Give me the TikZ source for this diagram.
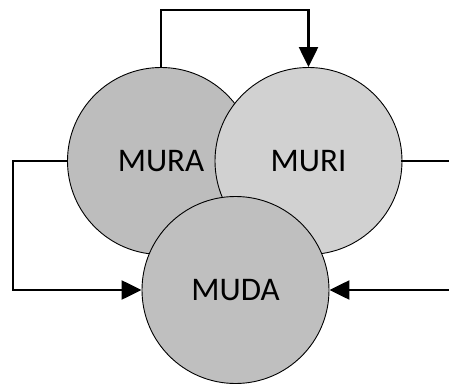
\documentclass[tikz,border=0pt]{standalone}
\usepackage{fontspec}
\setmainfont{Carlito}
\usetikzlibrary{arrows.meta}
\begin{document}
\begin{tikzpicture}[x=1pt,y=-1pt,
  bubble/.style={circle,draw=black,line width=0.9pt,minimum size=187pt,inner sep=0pt,
    font=\fontsize{33}{33}\selectfont},
  conn/.style={line width=2.4pt,line cap=rect},
  flow/.style={conn,-{Triangle[length=20pt,width=19pt]}}]
  \useasboundingbox (0,0) rectangle (449,385);
  % the three overlapping circles
  \node[bubble,fill=black!26] (mura) at (161,161) {MURA};
  \node[bubble,fill=black!18] (muri) at (308.5,161) {MURI};
  \node[bubble,fill=black!25] (muda) at (235.5,290) {MUDA};
  % routing helpers
  \coordinate (topy) at (0,10);
  \coordinate (leftx) at (13,0);
  \coordinate (rightx) at (449,0);
  % connectors
  \draw[flow] (mura.north) -- (mura.north |- topy) -- (muri.north |- topy) -- (muri.north);
  \draw[flow] (mura.west) -- (mura.west -| leftx) -- (leftx |- muda.west) -- (muda.west);
  \draw[conn] (muri.east) -- (muri.east -| rightx);
  \draw[flow] (muda.east -| rightx) -- (muda.east);
\end{tikzpicture}
\end{document}
